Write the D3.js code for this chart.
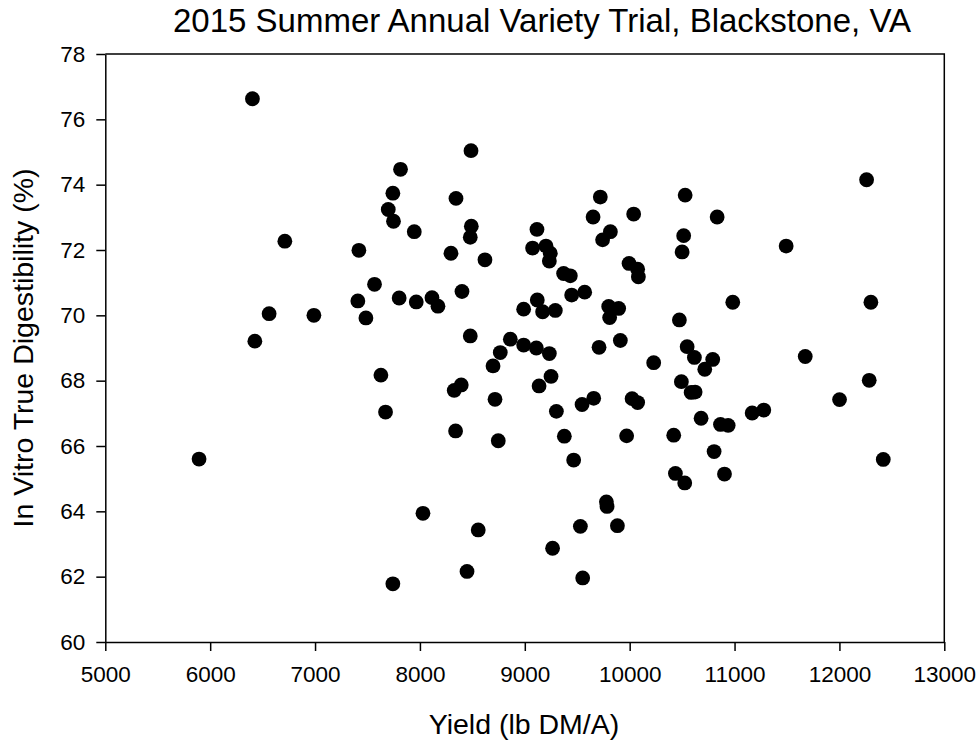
<!DOCTYPE html>
<html>
<head>
<meta charset="utf-8">
<script src="https://cdn.jsdelivr.net/npm/d3@7"></script>
<style>
  html, body { margin: 0; padding: 0; background: #fff; }
  svg { display: block; font-family: "Liberation Sans", Arial, Helvetica, sans-serif; }
</style>
</head>
<body>
<svg id="chart" width="979" height="742"></svg>
<script>
// Yield (lb DM/A) for each entry
const yieldLb = [
  6403, 7815, 7742, 7698, 7748, 7946, 6712, 7418, 7567, 7408,
  7802, 7965, 6562, 6989, 7485, 6426, 8487, 8344, 8490, 8480,
  8296, 8620, 9720, 9651, 10038, 10529, 9816, 9742, 10515, 10500,
  9116, 9074, 9202, 9243, 9234, 9370, 9434, 9994, 10076, 10083,
  9571, 9447, 8115, 8172, 8401, 8989, 9119, 9170, 9291, 9800,
  9895, 9809, 10474, 8480, 8862, 8766, 8697, 8989, 9110, 9234,
  9708, 9911, 10229, 10548, 10617, 12259, 10834, 11492, 10983, 12300,
  10792, 10716, 11674, 12284, 10493, 10586, 10624, 12001, 10681, 11168,
  11279, 10866, 10939, 10420, 10805, 7628, 8394, 8327, 9250, 9136,
  8716, 7672, 9301, 9546, 9657, 8340, 8747, 9377, 9466, 8029,
  8556, 9265, 9530, 8449, 7742, 9552, 10023, 10076, 9971, 12418,
  10436, 10525, 10904, 9778, 9784, 9883, 5894
];

// In vitro true digestibility (%) for the same entries
const ivtd = [
  76.63, 74.47, 73.74, 73.24, 72.88, 72.56, 72.27, 71.99, 70.95, 70.44,
  70.53, 70.41, 70.05, 70.00, 69.92, 69.21, 75.04, 73.58, 72.73, 72.39,
  71.90, 71.70, 73.62, 73.01, 73.10, 73.68, 72.56, 72.31, 72.44, 71.94,
  72.63, 72.06, 72.12, 71.90, 71.66, 71.28, 71.21, 71.59, 71.41, 71.18,
  70.71, 70.62, 70.54, 70.28, 70.73, 70.19, 70.47, 70.11, 70.15, 70.27,
  70.21, 69.93, 69.86, 69.37, 69.27, 68.86, 68.45, 69.09, 69.00, 68.83,
  69.02, 69.23, 68.55, 69.04, 68.71, 74.15, 73.01, 72.12, 70.40, 70.40,
  68.65, 68.35, 68.74, 68.01, 67.97, 67.64, 67.65, 67.42, 66.85, 67.01,
  67.10, 66.66, 66.63, 66.33, 65.83, 68.17, 67.87, 67.70, 68.13, 67.84,
  67.43, 67.04, 67.06, 67.27, 67.46, 66.46, 66.16, 66.30, 65.57, 63.94,
  63.43, 62.87, 63.54, 62.16, 61.78, 61.96, 67.45, 67.33, 66.31, 65.59,
  65.16, 64.87, 65.14, 64.29, 64.15, 63.56, 65.60
];

const xTicks = [5000, 6000, 7000, 8000, 9000, 10000, 11000, 12000, 13000];
const yTicks = [60, 62, 64, 66, 68, 70, 72, 74, 76, 78];

const titleText = "2015 Summer Annual Variety Trial, Blackstone, VA";
const xTitle = "Yield (lb DM/A)";
const yTitle = "In Vitro True Digestibility (%)";

const points = yieldLb.map((v, i) => ({ x: v, y: ivtd[i] }));

const svg = d3.select("#chart");
const plot = { left: 105.3, right: 944.3, top: 54, bottom: 642 };

const x = d3.scaleLinear().domain([5000, 13000]).range([plot.left, plot.right]);
const y = d3.scaleLinear().domain([60, 78]).range([plot.bottom, plot.top]);

// Points
svg.append("g")
  .selectAll("circle")
  .data(points)
  .join("circle")
  .attr("cx", d => x(d.x))
  .attr("cy", d => y(d.y))
  .attr("r", 7.4)
  .attr("fill", "#000");

// Frame: top and right edges
svg.append("path")
  .attr("d", `M${plot.left},${plot.top}H${plot.right}V${plot.bottom}`)
  .attr("fill", "none")
  .attr("stroke", "#000")
  .attr("stroke-width", 1.5);

// Bottom axis
const xAxis = svg.append("g")
  .attr("transform", `translate(0,${plot.bottom})`)
  .call(d3.axisBottom(x).tickValues(xTicks).tickFormat(d3.format("d")).tickSize(9).tickSizeOuter(0).tickPadding(15));

// Left axis
const yAxis = svg.append("g")
  .attr("transform", `translate(${plot.left},0)`)
  .call(d3.axisLeft(y).tickValues(yTicks).tickFormat(d3.format("d")).tickSize(9).tickSizeOuter(0).tickPadding(11));

[xAxis, yAxis].forEach(g => {
  g.select(".domain").attr("stroke", "#000").attr("stroke-width", 1.5);
  g.selectAll(".tick line").attr("stroke", "#000").attr("stroke-width", 1.5);
  g.selectAll(".tick text")
    .attr("fill", "#000")
    .style("font-size", "22.5px")
    .style("font-family", '"Liberation Sans", Arial, sans-serif');
});

// Title
svg.append("text")
  .attr("x", 542)
  .attr("y", 32)
  .attr("text-anchor", "middle")
  .style("font-size", "33px")
  .attr("fill", "#000")
  .text(titleText);

// X axis title
svg.append("text")
  .attr("x", 524)
  .attr("y", 734)
  .attr("text-anchor", "middle")
  .style("font-size", "28.5px")
  .attr("fill", "#000")
  .text(xTitle);

// Y axis title
svg.append("text")
  .attr("transform", "translate(33,348) rotate(-90)")
  .attr("text-anchor", "middle")
  .style("font-size", "28.5px")
  .attr("fill", "#000")
  .text(yTitle);
</script>
</body>
</html>
